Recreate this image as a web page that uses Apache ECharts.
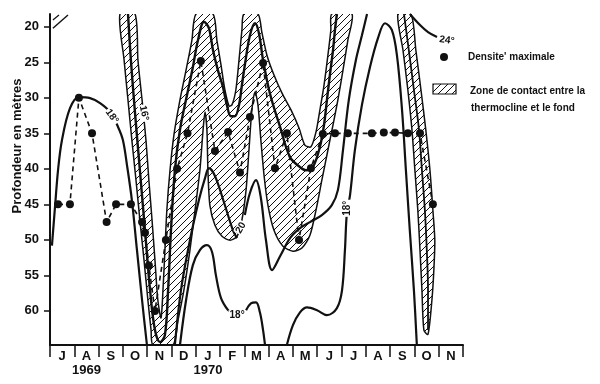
<!DOCTYPE html>
<html><head><meta charset="utf-8">
<script src="https://cdn.jsdelivr.net/npm/echarts@6/dist/echarts.min.js"></script>
<style>html,body{margin:0;padding:0;background:#fff}#c{width:600px;height:384px}</style>
</head><body><div id="c"></div>
<script>
// ---- axis labels / ticks ----
const monthLabels = ['J','A','S','O','N','D','J','F','M','A','M','J','J','A','S','O','N'];
const monthCenters = [0.5,1.5,2.5,3.5,4.5,5.5,6.5,7.5,8.5,9.5,10.5,11.5,12.5,13.5,14.5,15.5,16.5];
const monthBounds = [0,1,2,3,4,5,6,7,8,9,10,11,12,13,14,15,16,17];
const yearLabels = ['1969','1970'];
const yearCenters = [1.5, 6.5];
const depthTicks = [20,25,30,35,40,45,50,55,60];

// ---- Densité maximale (month since 1 July 1969, depth m) ----
const densiteMax = [[0.33,45],[0.82,45],[1.19,30],[1.73,35],[2.33,47.5],[2.72,45],[3.33,45],[3.79,47.5],[3.91,49],[4.07,53.6],[4.32,60],[4.77,50],[5.23,40],[5.66,35],[6.21,24.8],[6.79,37.5],[7.33,34.8],[7.82,40.5],[8.23,32.7],[8.77,25.1],[9.26,39.9],[9.75,35],[10.25,50],[10.74,39.9],[11.23,35.1],[11.73,35],[12.26,35],[13.25,35],[13.74,34.9],[14.2,34.9],[14.73,35],[15.23,35],[15.76,45]];

// ---- isothermes ----
const iso18_1969 = [[0.08,50.8],[0.21,45.2],[0.33,40.2],[0.49,36.0],[0.82,31.5],[1.19,29.9],[1.65,30.05],[2.06,30.75],[2.47,32.0],[2.80,34.1],[3.00,35.95],[3.17,39.5],[3.37,44.4],[3.58,51.45],[3.79,58.5],[3.99,64.8]];
const isoMain = [[3.21,18.2],[3.33,24.7],[3.50,32.15],[3.70,40.2],[3.91,48.65],[4.12,57.1],[4.32,62.7],[4.53,64.4],[4.73,63.4],[4.86,57.1],[4.98,48.65],[5.14,40.2],[5.35,34.5],[5.64,29.6],[5.88,25.7],[6.09,21.9],[6.34,19.3],[6.54,20.2],[6.71,23.3],[6.91,26.1],[7.12,28.5],[7.28,31.0],[7.45,32.6],[7.61,32.6],[7.78,31.0],[7.90,28.2],[8.02,25.4],[8.23,21.2],[8.44,19.5],[8.60,20.9],[8.77,24.7],[9.05,29.35],[9.47,34.1],[9.88,38.35],[10.29,39.75],[10.53,40.2],[10.82,39.75],[11.11,36.9],[11.28,33.8],[11.40,30.3],[11.52,26.8],[11.65,23.3],[11.73,20.45],[11.81,18.2]];
const iso20a = [[5.14,64.8],[5.39,57.1],[5.76,50.05],[6.13,44.4],[6.38,41.3],[6.54,39.9],[6.79,41.0],[7.16,44.7],[7.53,48.65],[7.70,49.75]];
const iso20b = [[8.02,46.5],[8.23,43.4],[8.48,41.6],[8.68,44.1],[8.89,50.05],[9.14,54.25],[9.47,52.3],[9.88,49.75],[10.29,48.35],[10.70,47.5],[11.19,46.5],[11.60,45.1],[11.85,43.0],[12.06,37.35],[12.30,30.3],[12.59,24.7],[12.84,21.2],[13.05,18.2]];
const iso18a = [[5.35,64.8],[5.60,58.5],[5.88,53.55],[6.17,51.45],[6.46,50.75],[6.67,51.7],[6.83,55.0],[7.04,58.2],[7.33,59.9],[7.49,60.2]];
const iso18b = [[8.07,59.9],[8.27,58.95],[8.48,58.8],[8.64,60.2],[8.77,62.7],[8.85,64.8]];
const iso18c = [[9.75,64.8],[10.0,62.0],[10.29,60.2],[10.58,59.5],[10.99,59.9],[11.40,60.6],[11.81,59.6],[12.02,57.1],[12.14,51.45],[12.22,46.25],[12.35,43.7],[12.55,37.35],[12.84,31.0],[13.17,25.7],[13.50,21.6],[13.79,19.5],[14.07,20.45],[14.28,24.0],[14.49,31.7],[14.65,40.2],[14.81,48.65],[14.98,57.1],[15.10,64.8]];
const iso24 = [[14.81,18.2],[15.23,19.75],[15.56,20.75],[15.93,21.45]];
const band4Mid = [[14.57,18.2],[14.77,23.3],[14.98,28.9],[15.19,34.55],[15.31,40.2],[15.43,45.8],[15.51,51.45],[15.56,57.1],[15.56,62.7]];
const cornerHatch1 = [[0.12,20.2],[0.74,18.35]];
const cornerHatch2 = [[0.12,19.05],[0.37,18.35]];

// ---- zones de contact thermocline / fond ----
const zoneMain = [[2.88,18.2],[3.05,24.7],[3.21,30.3],[3.37,35.95],[3.54,41.6],[3.70,47.2],[3.87,52.85],[4.03,58.5],[4.16,62.7],[4.24,64.8],
 [5.06,64.8],[5.27,61.3],[5.51,57.1],[5.76,51.45],[5.97,45.8],[6.17,40.2],[6.30,34.55],[6.38,32.0],[6.46,34.55],[6.50,40.2],[6.58,45.1],[6.79,47.95],[7.08,49.5],[7.41,50.05],[7.70,49.5],[7.90,47.2],[8.07,43.0],[8.19,37.35],[8.31,31.7],[8.44,29.2],[8.56,31.0],[8.68,35.95],[8.81,40.9],[8.97,45.1],[9.22,48.65],[9.59,50.9],[10.0,51.6],[10.37,51.15],[10.70,49.35],[10.95,45.8],[11.19,41.6],[11.44,37.35],[11.65,33.8],[11.85,30.3],[12.06,26.1],[12.26,21.9],[12.43,18.2],
 [11.60,18.2],[11.56,20.45],[11.44,24.0],[11.28,28.2],[11.11,31.7],[10.95,34.8],[10.74,36.9],[10.49,36.65],[10.25,34.25],[9.92,31.7],[9.55,29.35],[9.22,26.8],[8.93,24.0],[8.72,20.75],[8.56,18.2],
 [7.98,18.2],[7.90,20.45],[7.78,24.7],[7.65,28.9],[7.49,31.0],[7.37,31.15],[7.20,28.9],[7.04,25.4],[6.87,21.9],[6.71,18.2],
 [6.01,18.2],[5.84,21.9],[5.60,26.1],[5.35,30.3],[5.10,35.25],[4.94,40.2],[4.81,45.8],[4.73,51.45],[4.65,57.1],[4.57,61.0],
 [4.44,58.5],[4.32,52.85],[4.20,47.2],[4.07,41.6],[3.95,35.95],[3.79,30.3],[3.62,24.7],[3.50,18.2]];
const zoneAutumn70 = [[14.32,18.2],[14.53,23.3],[14.73,28.9],[14.90,34.55],[15.02,40.2],[15.14,45.8],[15.23,51.45],[15.31,57.1],[15.39,62.7],[15.56,63.3],[15.72,58.5],[15.80,54.25],[15.84,50.05],[15.76,45.8],[15.64,40.2],[15.47,34.55],[15.27,28.9],[15.06,23.3],[14.86,18.2]];

// ---- étiquettes des isothermes ----
const curveLabelPos = [[2.55,32.6],[3.87,32.15],[7.86,48.3],[7.70,60.6],[12.22,45.55],[16.34,21.9]];
const curveLabelText = ['18°','16°','20','18°','18°','24°'];
const curveLabelRot = [-55,-78,60,0,90,-8];

function makeHatch(){
  var s=7, c=document.createElement('canvas'); c.width=s; c.height=s;
  var g=c.getContext('2d'); g.strokeStyle='#111'; g.lineWidth=1;
  g.beginPath(); g.moveTo(0,s); g.lineTo(s,0); g.moveTo(-1,1); g.lineTo(1,-1); g.moveTo(s-1,s+1); g.lineTo(s+1,s-1); g.stroke();
  return c;
}
const hatchImg = makeHatch();
const INK = '#111';
const FONT = '"Liberation Sans", Arial, sans-serif';

function zoneSeries(pts){
  return {
    type:'custom', coordinateSystem:'cartesian2d', silent:true, z:2,
    data: pts,
    renderItem: function(params, api){
      if (params.dataIndex !== 0) return null;
      var cs = params.coordSys;
      return {type:'polygon', shape:{points: pts.map(function(p){return api.coord(p);}), smooth:0.25},
        style:{fill:{image:hatchImg, repeat:'repeat'}, stroke:INK, lineWidth:1.5},
        clipPath:{type:'rect', shape:{x:cs.x, y:cs.y, width:cs.width, height:cs.height}}};
    }
  };
}
function isoSeries(pts, w){
  return {type:'line', data:pts, smooth:0.35, symbol:'none', silent:true, z:3,
    lineStyle:{color:INK, width:w||2.2}};
}

const chart = echarts.init(document.getElementById('c'), null, {renderer:'canvas'});
chart.setOption({
  backgroundColor:'#fff',
  animation:false,
  grid:{left:50, right:137, top:14, bottom:39},
  xAxis:[{
    type:'value', min:0, max:17, position:'bottom',
    axisLine:{show:true, onZero:false, lineStyle:{color:INK, width:2}},
    axisTick:{show:true, customValues:monthBounds, length:12, lineStyle:{color:INK, width:1.5}},
    axisLabel:{customValues:monthCenters, formatter:function(v){return monthLabels[Math.floor(v)];}, color:INK, fontWeight:'bold', fontSize:13, fontFamily:FONT, margin:5},
    splitLine:{show:false}
  },{
    type:'value', min:0, max:17, position:'bottom',
    axisLine:{show:false}, axisTick:{show:false},
    axisLabel:{customValues:yearCenters, formatter:function(v){return yearLabels[yearCenters.indexOf(v)];}, color:INK, fontWeight:'bold', fontSize:13, fontFamily:FONT, margin:19},
    splitLine:{show:false}
  }],
  yAxis:{
    type:'value', inverse:true, min:18.2, max:64.8,
    axisLine:{show:true, lineStyle:{color:INK, width:2}},
    axisTick:{show:true, customValues:depthTicks, length:6, lineStyle:{color:INK, width:1.5}},
    axisLabel:{customValues:depthTicks, color:INK, fontWeight:'bold', fontSize:13, fontFamily:FONT, margin:11},
    splitLine:{show:false}
  },
  graphic:[
    {type:'text', x:17, y:146, rotation:Math.PI/2, style:{text:'Profondeur en mètres', font:'bold 13px '+FONT, fill:INK, align:'center', verticalAlign:'middle'}},
    {type:'circle', shape:{cx:444, cy:57, r:4}, style:{fill:INK}},
    {type:'text', x:468, y:57, style:{text:"Densite' maximale", font:'bold 10px '+FONT, fill:INK, verticalAlign:'middle'}},
    {type:'rect', shape:{x:433, y:84, width:23, height:10}, style:{fill:{image:hatchImg, repeat:'repeat'}, stroke:INK, lineWidth:1.2}},
    {type:'text', x:470, y:91, style:{text:'Zone de contact entre la', font:'bold 10px '+FONT, fill:INK, verticalAlign:'middle'}},
    {type:'text', x:471, y:108, style:{text:'thermocline et le fond', font:'bold 10px '+FONT, fill:INK, verticalAlign:'middle'}}
  ],
  series:[
    zoneSeries(zoneMain),
    zoneSeries(zoneAutumn70),
    isoSeries(iso18_1969),
    isoSeries(isoMain, 2.4),
    isoSeries(iso20a),
    isoSeries(iso20b),
    isoSeries(iso18a),
    isoSeries(iso18b),
    isoSeries(iso18c),
    isoSeries(iso24),
    isoSeries(band4Mid, 1.8),
    isoSeries(cornerHatch1, 1.4),
    isoSeries(cornerHatch2, 1.2),
    {type:'line', data:densiteMax, symbol:'circle', symbolSize:8, silent:true, z:5,
      lineStyle:{color:INK, width:1.6, type:[5,4]}, itemStyle:{color:INK}},
    {type:'custom', coordinateSystem:'cartesian2d', silent:true, z:6,
      data:curveLabelPos,
      renderItem:function(params, api){
        var p = api.coord([api.value(0), api.value(1)]);
        var i = params.dataIndex;
        return {type:'text', x:p[0], y:p[1], rotation:curveLabelRot[i]*Math.PI/180,
          style:{text:curveLabelText[i], font:'bold 10px '+FONT, fill:INK, align:'center', verticalAlign:'middle', backgroundColor:'#fff', padding:[0,1]}};
      }}
  ]
});
</script></body></html>
